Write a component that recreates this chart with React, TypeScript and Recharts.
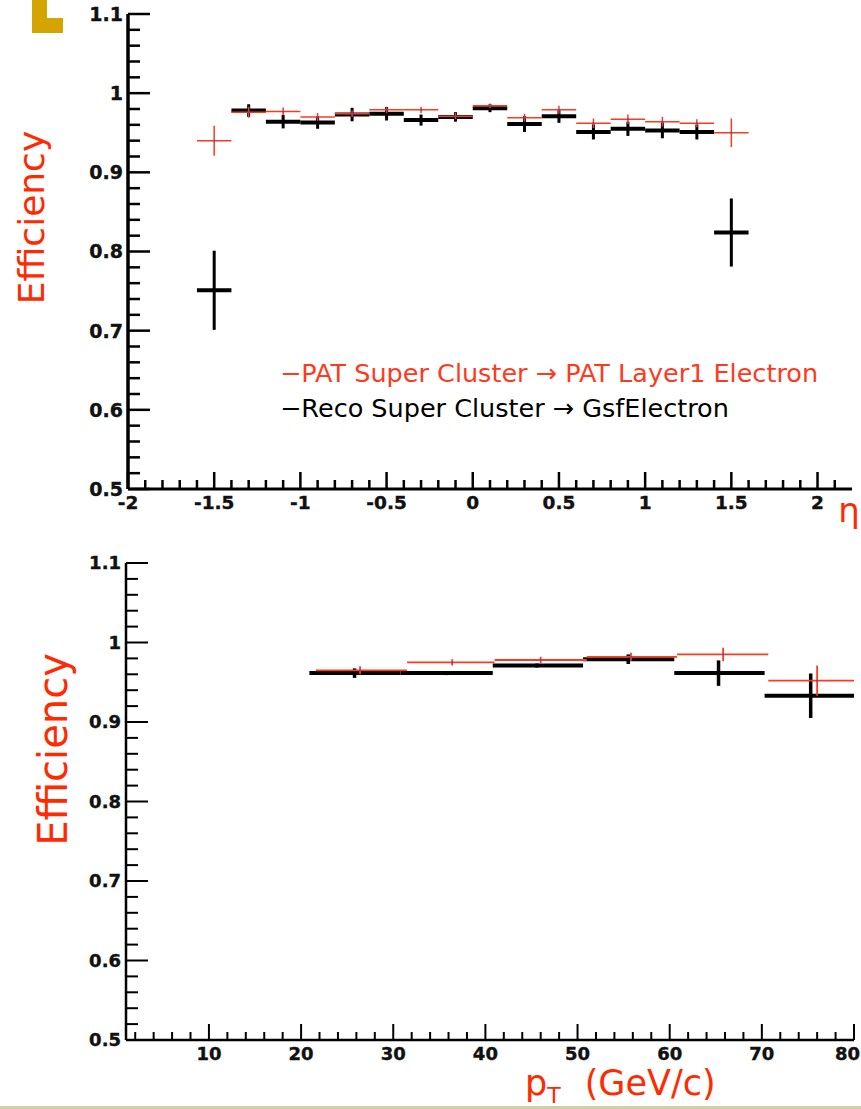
import React from "react";
import { ScatterChart, Scatter, XAxis, YAxis, ErrorBar, Legend } from "recharts";

const RED = "#ff3a1c";
const TITLE_RED = "#ff2a00";
const LABEL_FONT = "'DejaVu Sans', Verdana, sans-serif";

// efficiency vs eta, bins of 0.2
const etaCenters = [-1.5, -1.3, -1.1, -0.9, -0.7, -0.5, -0.3, -0.1, 0.1, 0.3, 0.5, 0.7, 0.9, 1.1, 1.3, 1.5];
const etaHalfWidth = 0.1;
const patEtaEff = [0.94, 0.976, 0.977, 0.97, 0.974, 0.979, 0.979, 0.971, 0.984, 0.969, 0.979, 0.962, 0.967, 0.964, 0.962, 0.95];
const patEtaErr = [0.019, 0.007, 0.005, 0.005, 0.004, 0.004, 0.004, 0.004, 0.003, 0.005, 0.005, 0.006, 0.006, 0.006, 0.005, 0.018];
const recoEtaEff = [0.751, 0.978, 0.964, 0.963, 0.973, 0.974, 0.966, 0.97, 0.981, 0.961, 0.971, 0.951, 0.955, 0.953, 0.951, 0.824];
const recoEtaErr = [0.05, 0.008, 0.0085, 0.008, 0.0085, 0.0085, 0.007, 0.006, 0.005, 0.01, 0.0085, 0.0095, 0.009, 0.01, 0.0095, 0.043];

// efficiency vs pT (GeV/c)
const patPtCenters = [26.4, 36.4, 46.0, 55.8, 65.8, 76.0];
const patPtEdges = [21.6, 31.5, 41.0, 51.0, 60.8, 70.7, 80];
const patPtEff = [0.965, 0.975, 0.978, 0.982, 0.985, 0.952];
const patPtErr = [0.005, 0.004, 0.004, 0.005, 0.0085, 0.019];
const recoPtCenters = [25.8, 35.8, 45.6, 55.5, 65.3, 75.3];
const recoPtEdges = [20.9, 30.8, 40.8, 50.6, 60.5, 70.3, 80];
const recoPtEff = [0.9615, 0.9615, 0.971, 0.979, 0.9615, 0.933];
const recoPtErr = [0.006, 0.0025, 0.0025, 0.006, 0.016, 0.028];

const patName = "PAT Super Cluster \u2192 PAT Layer1 Electron";
const recoName = "Reco Super Cluster \u2192 GsfElectron";

const effMajorTicks = [0.5, 0.6, 0.7, 0.8, 0.9, 1, 1.1];
const etaMajorTicks = [-2, -1.5, -1, -0.5, 0, 0.5, 1, 1.5, 2];
const ptMajorTicks = [10, 20, 30, 40, 50, 60, 70, 80];

const fineTicks = (lo: number, hi: number, step: number) => {
  const out: number[] = [];
  const n = Math.round((hi - lo) / step);
  for (let i = 0; i <= n; i++) out.push(Math.round((lo + i * step) * 1e4) / 1e4);
  return out;
};
const isOn = (v: number, list: number[]) => list.some((m) => Math.abs(m - v) < 1e-6);

const effTicks = fineTicks(0.5, 1.1, 0.02);
const etaTicks = fineTicks(-2, 2.1, 0.1);
const ptTicks = fineTicks(2, 80, 2);

const etaRows = (eff: number[], err: number[]) =>
  etaCenters.map((x, i) => ({ x, y: eff[i], ex: etaHalfWidth, ey: err[i] }));
const ptRows = (centers: number[], edges: number[], eff: number[], err: number[]) =>
  centers.map((x, i) => ({ x, y: eff[i], ex: [x - edges[i], edges[i + 1] - x], ey: err[i] }));

const patEta = etaRows(patEtaEff, patEtaErr);
const recoEta = etaRows(recoEtaEff, recoEtaErr);
const patPt = ptRows(patPtCenters, patPtEdges, patPtEff, patPtErr);
const recoPt = ptRows(recoPtCenters, recoPtEdges, recoPtEff, recoPtErr);

const tickText = {
  fontFamily: LABEL_FONT,
  fontWeight: "bold" as const,
  fill: "#111",
  stroke: "#111",
  strokeWidth: 0.4,
};

function makeYTick(fontSize: number, lw: number) {
  return (props: any) => {
    const { x, y, payload } = props;
    const major = isOn(payload.value, effMajorTicks);
    return (
      <g>
        <line x1={x} x2={x + (major ? 22 : 12)} y1={y} y2={y} stroke="#000" strokeWidth={lw} />
        {major && (
          <text x={x - 5} y={y + fontSize * 0.36} textAnchor="end" fontSize={fontSize} {...tickText}>
            {String(payload.value)}
          </text>
        )}
      </g>
    );
  };
}

function makeXTick(majors: number[], fontSize: number, lw: number, majorLen: number, minorLen: number, gap: number) {
  return (props: any) => {
    const { x, y, payload } = props;
    const major = isOn(payload.value, majors);
    // keep the last label inside the page edge
    const nearEdge = x > 845;
    return (
      <g>
        <line x1={x} x2={x} y1={y} y2={y - (major ? majorLen : minorLen)} stroke="#000" strokeWidth={lw} />
        {major && (
          <text
            x={nearEdge ? 860 : x}
            y={y + gap}
            textAnchor={nearEdge ? "end" : "middle"}
            fontSize={fontSize}
            {...tickText}
          >
            {String(payload.value)}
          </text>
        )}
      </g>
    );
  };
}

const EffTitle = (props: any) => {
  const { viewBox, dx, dy, size } = props;
  const cx = viewBox.x + dx;
  const cy = viewBox.y + viewBox.height / 2 + dy;
  return (
    <text
      x={cx}
      y={cy}
      transform={`rotate(-90 ${cx} ${cy})`}
      textAnchor="middle"
      fontFamily={LABEL_FONT}
      fontSize={size}
      fill={TITLE_RED}
    >
      Efficiency
    </text>
  );
};

const EtaTitle = (props: any) => {
  const { viewBox } = props;
  return (
    <text x={viewBox.x + viewBox.width - 3} y={viewBox.y + 33} textAnchor="middle" fontFamily={LABEL_FONT} fontSize={34} fill={TITLE_RED}>
      η
    </text>
  );
};

const PtTitle = (props: any) => {
  const { viewBox } = props;
  const x0 = viewBox.x + 399;
  const base = viewBox.y + 55;
  return (
    <text x={x0} y={base} fontFamily={LABEL_FONT} fontSize={35} fill={TITLE_RED}>
      p
      <tspan fontSize={22} dy={8}>T</tspan>
      <tspan dy={-8} dx={24}>(GeV/c)</tspan>
    </text>
  );
};

const LegendBox = (props: any) => {
  const items = props.payload || [];
  return (
    <div style={{ fontFamily: LABEL_FONT, fontSize: 25.5, lineHeight: "35px", whiteSpace: "nowrap" }}>
      {items.map((it: any) => (
        <div key={it.value} style={{ color: it.color }}>
          {"\u2212" + it.value}
        </div>
      ))}
    </div>
  );
};

const dot = (props: any) => <circle cx={props.cx} cy={props.cy} r={1} fill="#3050ff" />;
const none = () => <g />;

export default function App() {
  return (
    <div style={{ position: "absolute", left: 0, top: 0, width: 861, height: 1109, background: "#fff", overflow: "hidden" }}>
      {/* slide decoration */}
      <div style={{ position: "absolute", left: 32, top: 0, width: 15, height: 33, background: "#d4a400" }} />
      <div style={{ position: "absolute", left: 32, top: 18, width: 31, height: 15, background: "#d4a400" }} />
      <div style={{ position: "absolute", left: 0, top: 1106, width: 861, height: 3, background: "#cfcfa4" }} />

      <div style={{ position: "absolute", left: 0, top: 0 }}>
        <ScatterChart width={861} height={545} margin={{ top: 14, right: 9, bottom: 0, left: 0 }}>
          <XAxis
            type="number"
            dataKey="x"
            domain={[-2, 2.2]}
            ticks={etaTicks}
            interval={0}
            height={56}
            tickSize={0}
            tickMargin={0}
            tickLine={false}
            axisLine={{ stroke: "#000", strokeWidth: 3 }}
            tick={makeXTick(etaMajorTicks, 18.5, 2.5, 17, 9, 20)}
            label={<EtaTitle />}
          />
          <YAxis
            type="number"
            dataKey="y"
            domain={[0.5, 1.1]}
            ticks={effTicks}
            interval={0}
            width={128}
            tickSize={0}
            tickMargin={0}
            tickLine={false}
            axisLine={{ stroke: "#000", strokeWidth: 3.5 }}
            tick={makeYTick(19, 2.5)}
            label={<EffTitle dx={44} dy={-34} size={36} />}
          />
          <XAxis xAxisId="frame" orientation="top" type="number" domain={[0, 1]} height={0} tick={false} tickLine={false} axisLine={{ stroke: "#333", strokeWidth: 2 }} />
          <YAxis yAxisId="frame" orientation="right" type="number" domain={[0, 1]} width={0} tick={false} tickLine={false} axisLine={{ stroke: "#333", strokeWidth: 2 }} />
          <Scatter name={recoName} data={recoEta} fill="#000" shape={none} isAnimationActive={false}>
            <ErrorBar dataKey="ex" direction="x" width={0} stroke="#000" strokeWidth={4} />
            <ErrorBar dataKey="ey" direction="y" width={0} stroke="#000" strokeWidth={3} />
          </Scatter>
          <Scatter name={patName} data={patEta} fill={RED} shape={dot} isAnimationActive={false}>
            <ErrorBar dataKey="ex" direction="x" width={0} stroke={RED} strokeWidth={1.5} />
            <ErrorBar dataKey="ey" direction="y" width={0} stroke={RED} strokeWidth={1.5} />
          </Scatter>
          <Legend
            layout="vertical"
            align="center"
            verticalAlign="middle"
            content={<LegendBox />}
            wrapperStyle={{ left: 280, top: 356, width: "auto" }}
          />
        </ScatterChart>
      </div>

      <div style={{ position: "absolute", left: 0, top: 540 }}>
        <ScatterChart width={861} height={569} margin={{ top: 23, right: 7, bottom: 0, left: 0 }}>
          <XAxis
            type="number"
            dataKey="x"
            domain={[1, 80]}
            ticks={ptTicks}
            interval={0}
            height={69}
            tickSize={0}
            tickMargin={0}
            tickLine={false}
            axisLine={{ stroke: "#000", strokeWidth: 2.5 }}
            tick={makeXTick(ptMajorTicks, 18, 2, 16, 8, 20)}
            label={<PtTitle />}
          />
          <YAxis
            type="number"
            dataKey="y"
            domain={[0.5, 1.1]}
            ticks={effTicks}
            interval={0}
            width={126}
            tickSize={0}
            tickMargin={0}
            tickLine={false}
            axisLine={{ stroke: "#000", strokeWidth: 2.5 }}
            tick={makeYTick(18, 2)}
            label={<EffTitle dx={67} dy={-52} size={40} />}
          />
          <XAxis xAxisId="frame" orientation="top" type="number" domain={[0, 1]} height={0} tick={false} tickLine={false} axisLine={{ stroke: "#222", strokeWidth: 2 }} />
          <YAxis yAxisId="frame" orientation="right" type="number" domain={[0, 1]} width={0} tick={false} tickLine={false} axisLine={{ stroke: "#222", strokeWidth: 2 }} />
          <Scatter name={recoName} data={recoPt} fill="#000" shape={none} isAnimationActive={false}>
            <ErrorBar dataKey="ex" direction="x" width={0} stroke="#000" strokeWidth={4} />
            <ErrorBar dataKey="ey" direction="y" width={0} stroke="#000" strokeWidth={3.5} />
          </Scatter>
          <Scatter name={patName} data={patPt} fill={RED} shape={dot} isAnimationActive={false}>
            <ErrorBar dataKey="ex" direction="x" width={0} stroke={RED} strokeWidth={1.8} />
            <ErrorBar dataKey="ey" direction="y" width={0} stroke={RED} strokeWidth={1.8} />
          </Scatter>
        </ScatterChart>
      </div>
    </div>
  );
}
